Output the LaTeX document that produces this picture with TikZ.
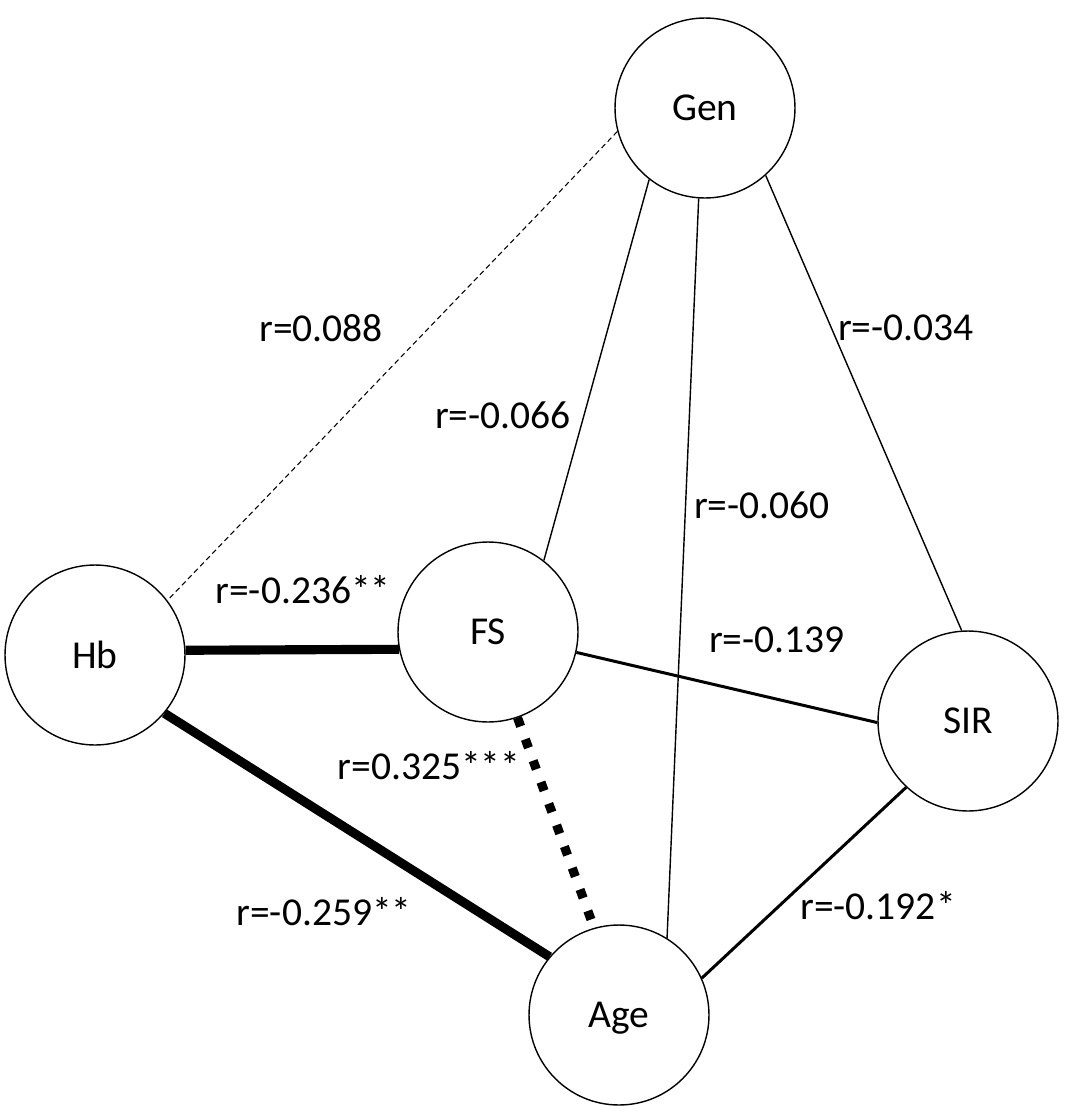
\documentclass[tikz,border=0pt]{standalone}
\usepackage{fontspec}
\setmainfont{Carlito}
\usepackage{tikz}

\begin{document}
\begin{tikzpicture}[x=0.02cm,y=-0.02cm,
  font=\fontsize{22.5}{27}\selectfont,
  var/.style={draw,circle,line width=0.8pt,minimum size=3.6cm,inner sep=0pt,text depth=0pt},
  coef/.style={inner sep=0pt},
  weak/.style={line width=0.8pt},
  mid/.style={line width=1.7pt},
  strong/.style={line width=5.2pt},
  nonsig/.style={line width=0.6pt,dash pattern=on 3pt off 2pt},
  dotline/.style={line width=5.2pt,dash pattern=on 5.2pt off 7.8pt}]
\useasboundingbox (0,0) rectangle (1071,1116);

% variables
\node[var] (gen) at (705,108) {Gen};
\node[var] (hb) at (95,655) {Hb};
\node[var] (fs) at (488,632) {FS};
\node[var] (sir) at (968,721) {SIR};
\node[var] (age) at (619,1015) {Age};

% correlations
\draw[nonsig] (gen.195) -- (hb.37);
\draw[weak] (gen.232) -- (fs.52);
\draw[weak] (gen.266) -- (age.58);
\draw[weak] (gen.312) -- (sir.94);
\draw[strong] (hb.3) -- (fs.191);
\draw[strong] (hb.320) -- (age.140);
\draw[mid] (fs.347) -- (sir.181);
\draw[dotline] (fs.289) -- (age.106);
\draw[mid] (sir.227) -- (age.24);

\node[coef] (rgenhb) at (321,328) {r=0.088};
\node[coef] (rgenfs) at (503,415) {r=-0.066};
\node[coef] (rgenage) at (762,505) {r=-0.060};
\node[coef] (rgensir) at (906,328) {r=-0.034};
\node[coef] (rhbfs) at (303,590) {r=-0.236**};
\node[coef] (rfssir) at (777,640) {r=-0.139};
\node[coef] (rfsage) at (429,766) {r=0.325***};
\node[coef] (rhbage) at (324,912) {r=-0.259**};
\node[coef] (rsirage) at (878,906) {r=-0.192*};

\end{tikzpicture}
\end{document}
